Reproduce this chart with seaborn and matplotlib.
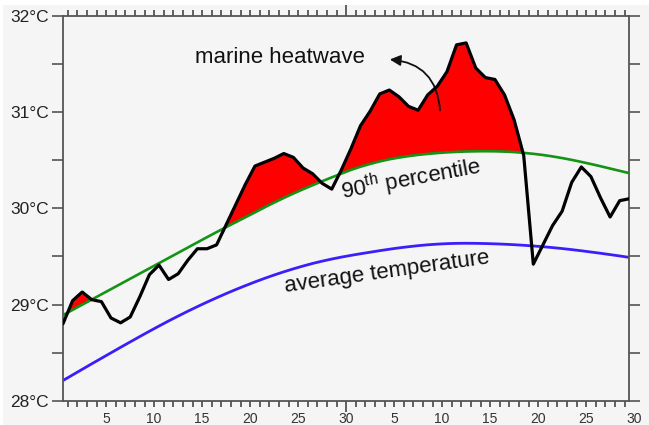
import numpy as np
import pandas as pd
import matplotlib
matplotlib.use("Agg")
import matplotlib.pyplot as plt
import seaborn as sns
from matplotlib.patches import Rectangle

# ---- data ----
days = list(range(1, 61))
observed = [28.80, 29.04, 29.13, 29.05, 29.03, 28.86, 28.81, 28.87, 29.08, 29.31,
            29.41, 29.26, 29.32, 29.46, 29.58, 29.58, 29.62, 29.83, 30.04, 30.25,
            30.44, 30.48, 30.52, 30.57, 30.53, 30.42, 30.36, 30.26, 30.20, 30.40,
            30.62, 30.86, 31.01, 31.19, 31.23, 31.16, 31.06, 31.02, 31.18, 31.27,
            31.42, 31.70, 31.72, 31.46, 31.36, 31.34, 31.18, 30.92, 30.55, 29.42,
            29.62, 29.82, 29.97, 30.27, 30.43, 30.33, 30.11, 29.91, 30.08, 30.10]
percentile90 = [28.890, 28.944, 28.998, 29.052, 29.106, 29.160, 29.214, 29.268, 29.322, 29.376,
                29.430, 29.484, 29.538, 29.592, 29.646, 29.700, 29.753, 29.805, 29.856, 29.907,
                29.958, 30.010, 30.060, 30.108, 30.154, 30.198, 30.240, 30.282, 30.322, 30.361,
                30.400, 30.433, 30.462, 30.488, 30.510, 30.528, 30.543, 30.556, 30.566, 30.575,
                30.582, 30.587, 30.591, 30.593, 30.594, 30.593, 30.590, 30.585, 30.577, 30.567,
                30.555, 30.540, 30.523, 30.504, 30.483, 30.461, 30.438, 30.414, 30.390, 30.366]
average = [28.210, 28.268, 28.326, 28.384, 28.441, 28.498, 28.555, 28.611, 28.667, 28.722,
           28.776, 28.829, 28.880, 28.930, 28.978, 29.025, 29.070, 29.114, 29.156, 29.196,
           29.235, 29.272, 29.307, 29.340, 29.371, 29.400, 29.427, 29.451, 29.473, 29.493,
           29.511, 29.528, 29.544, 29.560, 29.575, 29.589, 29.601, 29.612, 29.621, 29.628,
           29.633, 29.636, 29.637, 29.636, 29.634, 29.631, 29.627, 29.622, 29.616, 29.609,
           29.601, 29.592, 29.582, 29.571, 29.559, 29.546, 29.533, 29.519, 29.505, 29.490]
x_tick_labels = ["5", "10", "15", "20", "25", "30", "5", "10", "15", "20", "25", "30"]
y_ticks = [28, 29, 30, 31, 32]

df = pd.DataFrame({"day": days, "observed": observed,
                   "p90": percentile90, "average": average})

# ---- style ----
sns.set_theme(style="ticks")
plt.rcParams["font.family"] = ["Liberation Sans", "DejaVu Sans"]
plt.rcParams["mathtext.fontset"] = "custom"
plt.rcParams["mathtext.rm"] = "Liberation Sans"
plt.rcParams["mathtext.it"] = "Liberation Sans:italic"

W, H = 649, 425
fig = plt.figure(figsize=(W / 100, H / 100), dpi=100, facecolor="white")
fig.patches.append(Rectangle((3 / W, 0), 1, 1 - 5 / H, transform=fig.transFigure,
                             facecolor="#f5f5f5", edgecolor="none", zorder=-10))
ax = fig.add_axes([63 / W, 1 - 400.7 / H, (629.3 - 63) / W, (400.7 - 16) / H])
ax.set_facecolor("#f5f5f5")

obs = np.array(observed)
p90 = np.array(percentile90)
ax.fill_between(df["day"], obs, p90, where=obs > p90, interpolate=True,
                color="#ff0000", lw=0, zorder=1)
sns.lineplot(data=df, x="day", y="average", ax=ax, color="#3a1eff", lw=2.0, zorder=2)
sns.lineplot(data=df, x="day", y="p90", ax=ax, color="#149414", lw=1.9, zorder=3)
sns.lineplot(data=df, x="day", y="observed", ax=ax, color="black", lw=2.3, zorder=4)

ax.set_xlim(1, 60)
ax.set_ylim(28, 32)
ax.set_xlabel("")
ax.set_ylabel("")

# x ticks (day boundaries)
tick_pos = np.arange(5, 61, 5) + 0.5
ax.set_xticks(tick_pos[:-1])
ax.set_xticklabels(x_tick_labels[:-1])
ax.set_xticks(np.arange(1.5, 60, 1), minor=True)
ax.set_yticks(y_ticks)
ax.set_yticklabels([f"{v}°C" for v in y_ticks])
ax.set_yticks(np.arange(28.5, 32, 1), minor=True)

spine_c = "#555555"
for s in ax.spines.values():
    s.set_visible(True)
    s.set_color(spine_c)
    s.set_linewidth(1.3)

ax.tick_params(axis="x", which="both", direction="out", length=4, width=1.3,
               color=spine_c, top=True, bottom=True, labelsize=10,
               labelcolor="#333333", pad=4)
ax.tick_params(axis="y", which="both", direction="out", length=8, width=1.2,
               color=spine_c, left=True, right=True, labelsize=12.5,
               labelcolor="#222222", pad=2)
# longer tick at the month boundary
mt = ax.xaxis.get_major_ticks()[5]
mt.tick1line.set_markersize(8)
mt.tick2line.set_markersize(8)

ax.annotate(x_tick_labels[-1], xy=(tick_pos[-1], 0), xycoords=ax.get_xaxis_transform(),
            xytext=(0, -8), textcoords="offset points", ha="center", va="top",
            fontsize=10, color="#333333", annotation_clip=False)

# ---- annotations ----
ax.text(23.65, 31.51, "marine heatwave", fontsize=16, color="#111111",
        ha="center", va="baseline")
ax.annotate("", xy=(34.76, 31.55), xytext=(40.3, 30.99),
            arrowprops=dict(arrowstyle="-|>", connectionstyle="arc3,rad=0.45",
                            color="#111111", lw=1.3, mutation_scale=16))
ax.text(37.4, 30.23, "90$^{\\mathrm{th}}$ percentile", fontsize=16, color="#111111",
        ha="center", va="baseline", rotation=10.5, rotation_mode="anchor")
ax.text(34.8, 29.28, "average temperature", fontsize=16, color="#111111",
        ha="center", va="baseline", rotation=8, rotation_mode="anchor")

fig.savefig("out.png", dpi=100, facecolor=fig.get_facecolor())
